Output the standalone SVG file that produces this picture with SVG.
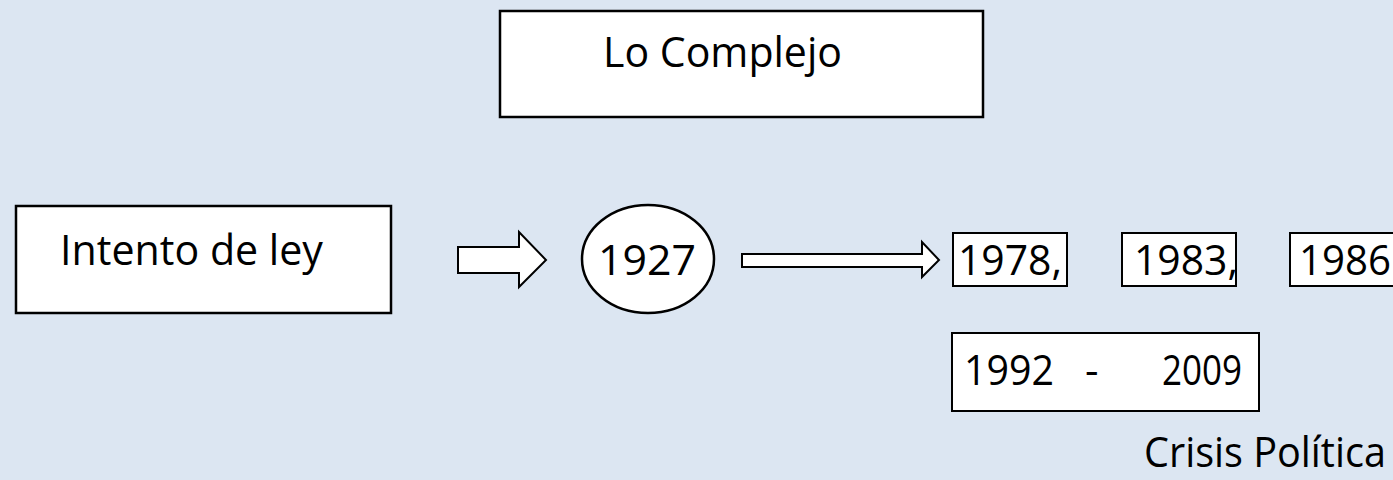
<svg xmlns="http://www.w3.org/2000/svg" width="1393" height="480" viewBox="0 0 1393 480">
<style>
.box{fill:#ffffff;stroke:#000000;stroke-width:2.5}
.sm{fill:#ffffff;stroke:#000000;stroke-width:2}
.arr{fill:#ffffff;stroke:#000000;stroke-width:2;stroke-linejoin:miter}
.t{font-family:"Open Sans","Noto Sans","Liberation Sans",sans-serif;font-size:42px;fill:#000000}
</style>
<rect x="0" y="0" width="1393" height="480" fill="#dce6f2"/>
<g id="lo-complejo">
<rect class="box" x="500" y="11" width="483" height="106"/>
<text class="t" x="603" y="67" textLength="239" lengthAdjust="spacingAndGlyphs">Lo Complejo</text>
</g>
<g id="intento-de-ley">
<rect class="box" x="16" y="206" width="375" height="107"/>
<text class="t" x="60" y="265" textLength="263" lengthAdjust="spacingAndGlyphs">Intento de ley</text>
</g>
<g id="y1927">
<ellipse class="box" cx="648" cy="259" rx="66" ry="54"/>
<text class="t" x="598" y="275" textLength="98" lengthAdjust="spacingAndGlyphs">1927</text>
</g>
<g id="y1978">
<rect class="sm" x="953" y="233" width="114" height="53"/>
<text class="t" x="958" y="275" textLength="104" lengthAdjust="spacingAndGlyphs">1978,</text>
</g>
<g id="y1983">
<rect class="sm" x="1122" y="233" width="114" height="53"/>
<text class="t" x="1134" y="275" textLength="104" lengthAdjust="spacingAndGlyphs">1983,</text>
</g>
<g id="y1986">
<rect class="sm" x="1290" y="233" width="120" height="53"/>
<text class="t" x="1299" y="275" textLength="92" lengthAdjust="spacingAndGlyphs">1986</text>
</g>
<g id="y1992-2009">
<rect class="sm" x="952" y="333" width="307" height="78"/>
<text class="t" x="964" y="385" textLength="90" lengthAdjust="spacingAndGlyphs">1992</text>
<text class="t" x="1085" y="385">-</text>
<text class="t" x="1162" y="385" textLength="80" lengthAdjust="spacingAndGlyphs">2009</text>
</g>
<g id="crisis-politica">
<text class="t" x="1144" y="467" textLength="242" lengthAdjust="spacingAndGlyphs">Crisis Política</text>
</g>
<g id="connectors">
<polygon class="arr" points="458,247 519,247 519,232 546,260 519,287 519,273 458,273"/>
<polygon class="arr" points="742,254 922,254 922,242 939,260 922,277 922,267 742,267"/>
</g>
</svg>
